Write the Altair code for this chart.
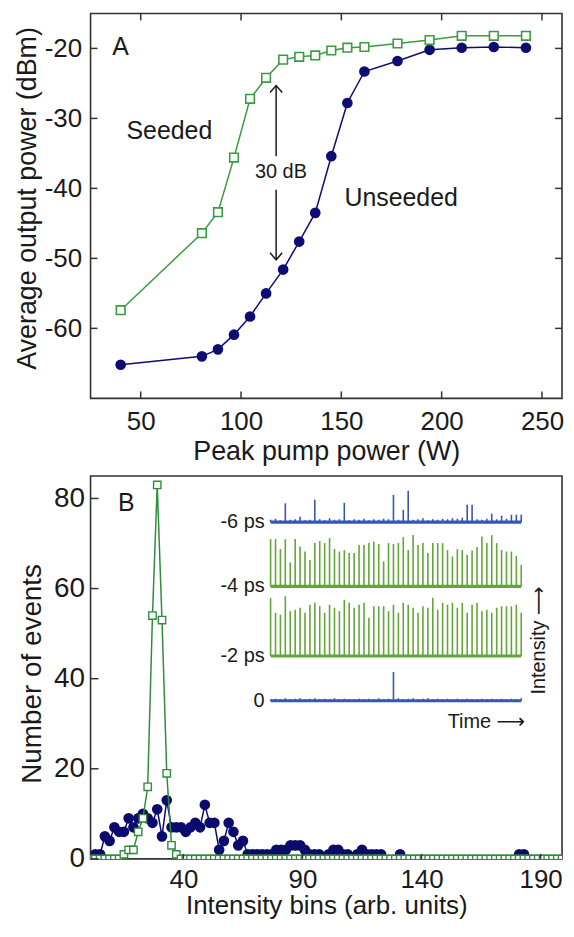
import altair as alt
import pandas as pd

FONT = "Liberation Sans, Arial, DejaVu Sans"
INK = "#1a1a1a"
FRAME = "#333333"

# ---------------- Panel A data ----------------
pump_power = [40, 80.5, 88.5, 96.5, 104.5, 112.5, 121, 129, 137, 145, 153, 161.5, 178, 194, 210, 226, 242]
seeded_dbm = [-57.4, -46.4, -43.4, -35.6, -27.2, -24.2, -21.6, -21.2, -21.0, -20.3, -19.9, -19.8, -19.3, -18.8, -18.2, -18.2, -18.2]
unseeded_dbm = [-65.2, -64.0, -63.0, -60.9, -58.3, -55.0, -51.6, -47.6, -43.5, -35.4, -27.8, -23.3, -21.8, -20.2, -19.9, -19.8, -19.9]
xticks_a = [50, 100, 150, 200, 250]
yticks_a = [-60, -50, -40, -30, -20]

# annotations of panel A (text, x, y, font size)
ann_a_text = ["A", "Seeded", "Unseeded", "30 dB"]
ann_a_x = [40, 64.3, 179.8, 119.9]
ann_a_y = [-19.8, -31.8, -41.4, -37.6]
ann_a_size = [25, 25, 25, 20]
arrow_x = 117.5
arrow_top, arrow_bottom = -25.3, -50.2
arrow_gap_top, arrow_gap_bottom = -35.4, -40.2

# ---------------- Panel B data ----------------
bins = list(range(1, 200, 2))
seeded_counts = [
    0, 0, 0, 0, 0, 0, 0, 1, 2, 2,
    6, 9, 16, 54, 83, 53, 19, 3, 1, 0,
    0, 0, 0, 0, 0, 0, 0, 0, 0, 0,
    0, 0, 0, 0, 0, 0, 0, 0, 0, 0,
    0, 0, 0, 0, 0, 0, 0, 0, 0, 0,
    0, 0, 0, 0, 0, 0, 0, 0, 0, 0,
    0, 0, 0, 0, 0, 0, 0, 0, 0, 0,
    0, 0, 0, 0, 0, 0, 0, 0, 0, 0,
    0, 0, 0, 0, 0, 0, 0, 0, 0, 0,
    0, 0, 0, 0, 0, 0, 0, 0, 0, 0,
]
unseeded_counts = [
    0, 1, 1, 5, 4, 7, 6, 6, 9, 7,
    9, 10, 9, 8, 11, 5, 13, 7, 7, 7,
    6, 7, 8, 7, 12, 8, 8, 2, 4, 8,
    6, 3, 4, 1, 1, 1, 1, 1, 1, 2,
    2, 2, 3, 3, 3, 2, 1, 1, 1, 0,
    1, 2, 2, 1, 1, 0, 1, 2, 1, 1,
    1, 1, 0, 0, 0, 1, 0, 0, 0, 0,
    0, 0, 0, 0, 0, 0, 0, 0, 0, 0,
    0, 0, 0, 0, 0, 0, 0, 0, 0, 0,
    1, 1, 0, 0, 0, 0, 0, 0, 0, 0,
]
xticks_b = [40, 90, 140, 190]
yticks_b = [0, 20, 40, 60, 80]

# inset pulse trains (relative intensity of each pulse)
trace_names = ["-6 ps", "-4 ps", "-2 ps", "0"]
pulses_m6 = [0.05, 0.07, 0.04, 0.38, 0.05, 0.06, 0.11, 0.04, 0.05, 0.45,
             0.06, 0.04, 0.08, 0.05, 0.06, 0.39, 0.04, 0.06, 0.05, 0.07,
             0.04, 0.06, 0.05, 0.07, 0.06, 0.55, 0.05, 0.25, 0.63, 0.05,
             0.06, 0.08, 0.04, 0.06, 0.05, 0.07, 0.06, 0.08, 0.07, 0.09,
             0.35, 0.35, 0.06, 0.05, 0.07, 0.17, 0.06, 0.13, 0.07, 0.15,
             0.15, 0.15]
pulses_m4 = [0.95, 0.95, 0.75, 0.95, 0.48, 0.95, 0.80, 0.70, 0.53, 0.87,
             0.91, 0.87, 0.97, 0.75, 0.70, 0.73, 0.67, 0.67, 0.83, 0.83,
             0.87, 0.90, 0.85, 0.50, 0.87, 0.85, 0.87, 0.99, 0.73, 1.03,
             0.83, 0.87, 0.67, 0.87, 0.87, 0.87, 0.73, 0.60, 0.75, 0.73,
             0.63, 0.72, 0.79, 1.00, 0.87, 1.03, 0.87, 0.73, 0.70, 0.70,
             0.61, 0.43]
pulses_m2 = [1.17, 0.87, 0.83, 1.20, 0.90, 0.93, 0.97, 0.87, 1.03, 1.07,
             1.00, 0.87, 1.03, 0.97, 0.90, 1.13, 1.07, 0.97, 1.03, 1.07,
             0.77, 1.00, 1.00, 1.00, 0.90, 1.03, 0.87, 1.07, 1.03, 0.97,
             0.87, 1.00, 0.97, 1.17, 0.93, 1.07, 1.03, 1.07, 0.97, 1.07,
             0.87, 1.03, 1.07, 0.90, 0.93, 0.87, 0.97, 1.00, 1.00, 1.00,
             1.03, 0.87]
pulses_0 = [0.03, 0.04, 0.03, 0.05, 0.03, 0.04, 0.05, 0.03, 0.04, 0.05,
            0.03, 0.04, 0.03, 0.05, 0.03, 0.04, 0.03, 0.03, 0.04, 0.03,
            0.04, 0.03, 0.05, 0.03, 0.04, 0.58, 0.05, 0.03, 0.04, 0.05,
            0.03, 0.04, 0.05, 0.03, 0.04, 0.03, 0.04, 0.03, 0.04, 0.03,
            0.04, 0.03, 0.03, 0.04, 0.03, 0.04, 0.03, 0.04, 0.03, 0.04,
            0.03, 0.05]

# ---------------- styling / layout ----------------
GREEN_A = "#3a9c40"
NAVY_A = "#0c0c72"
GREEN_B = "#2f8c3c"
NAVY_B = "#0b0b6e"
GREEN_I = "#62a63a"
BLUE_I = "#3656b4"
WA, HA = 474, 387
WB, HB = 474, 385
TICK_A = 7
trace_offset = {"-6 ps": 3.59, "-4 ps": 2.3, "-2 ps": 0.9, "0": 0.0}
trace_color = {"-6 ps": BLUE_I, "-4 ps": GREEN_I, "-2 ps": GREEN_I, "0": BLUE_I}
LABEL_EXPR = "toString(datum.value)"

# ---------------- Panel A ----------------
df_a = pd.DataFrame({
    "x": pump_power * 2,
    "y": seeded_dbm + unseeded_dbm,
    "series": ["Seeded"] * len(pump_power) + ["Unseeded"] * len(pump_power),
})
sx_a = alt.Scale(domain=[25, 260], nice=False, zero=False)
sy_a = alt.Scale(domain=[-70, -15], nice=False, zero=False)
ax_xa = alt.Axis(values=xticks_a, title="Peak pump power (W)", labelFontSize=26, titleFontSize=27,
                 labelPadding=10, titlePadding=4, ticks=False, tickSize=0, domain=False, grid=False,
                 labelExpr=LABEL_EXPR)
ax_ya = alt.Axis(values=yticks_a, title=None, labelFontSize=26,
                 labelPadding=9, ticks=False, tickSize=0, domain=False, grid=False,
                 labelExpr=LABEL_EXPR)


def XA(field):
    return alt.X(field, scale=sx_a, axis=ax_xa)


def YA(field):
    return alt.Y(field, scale=sy_a, axis=ax_ya)


base_a = alt.Chart(df_a)
seed_a = base_a.transform_filter(alt.datum.series == "Seeded")
unseed_a = base_a.transform_filter(alt.datum.series == "Unseeded")

layers_a = [
    unseed_a.mark_line(color=NAVY_A, strokeWidth=1.5).encode(x=XA("x:Q"), y=YA("y:Q")),
    unseed_a.mark_circle(color=NAVY_A, size=115, opacity=1).encode(x=XA("x:Q"), y=YA("y:Q")),
    seed_a.mark_line(color=GREEN_A, strokeWidth=1.5).encode(x=XA("x:Q"), y=YA("y:Q")),
    seed_a.mark_point(shape="square", filled=True, fill="white", stroke=GREEN_A,
                      strokeWidth=1.6, size=75, opacity=1).encode(x=XA("x:Q"), y=YA("y:Q")),
]

# inward ticks on all four sides
xt_a = pd.DataFrame({"x": xticks_a})
yt_a = pd.DataFrame({"y": yticks_a})
layers_a += [
    alt.Chart(xt_a).mark_rule(color=FRAME, strokeWidth=1.5).encode(x=XA("x:Q"), y=alt.value(0), y2=alt.value(TICK_A)),
    alt.Chart(xt_a).mark_rule(color=FRAME, strokeWidth=1.5).encode(x=XA("x:Q"), y=alt.value(HA), y2=alt.value(HA - TICK_A)),
    alt.Chart(yt_a).mark_rule(color=FRAME, strokeWidth=1.5).encode(y=YA("y:Q"), x=alt.value(0), x2=alt.value(TICK_A)),
    alt.Chart(yt_a).mark_rule(color=FRAME, strokeWidth=1.5).encode(y=YA("y:Q"), x=alt.value(WA), x2=alt.value(WA - TICK_A)),
]

# y-axis title drawn as a rotated text
layers_a.append(
    alt.Chart(pd.DataFrame({"t": ["Average output power (dBm)"]})).mark_text(
        font=FONT, color=INK, fontSize=27, angle=270, align="center", baseline="middle").encode(
        text="t:N", x=alt.value(-63), y=alt.value(186))
)

# annotations
ann_a = pd.DataFrame({"t": ann_a_text, "x": ann_a_x, "y": ann_a_y, "fs": ann_a_size})
layers_a.append(
    alt.Chart(ann_a).mark_text(font=FONT, color=INK, align="center", baseline="middle").encode(
        x=XA("x:Q"), y=YA("y:Q"), text="t:N", size=alt.Size("fs:Q", scale=None, legend=None))
)
shaft = pd.DataFrame({"x": [arrow_x, arrow_x], "y": [arrow_top, arrow_gap_bottom], "y2": [arrow_gap_top, arrow_bottom]})
layers_a.append(
    alt.Chart(shaft).mark_rule(color=INK, strokeWidth=1.5).encode(x=XA("x:Q"), y=YA("y:Q"), y2="y2:Q")
)
head_up = pd.DataFrame({"x": [arrow_x], "y": [arrow_top]})
head_dn = pd.DataFrame({"x": [arrow_x], "y": [arrow_bottom]})
layers_a.append(
    alt.Chart(head_up).mark_point(shape="M-1,1.15L0,0L1,1.15", filled=False, color=INK,
                                  strokeWidth=1.5, size=150, opacity=1).encode(x=XA("x:Q"), y=YA("y:Q"))
)
layers_a.append(
    alt.Chart(head_dn).mark_point(shape="M-1,-1.15L0,0L1,-1.15", filled=False, color=INK,
                                  strokeWidth=1.5, size=150, opacity=1).encode(x=XA("x:Q"), y=YA("y:Q"))
)

panel_a = alt.layer(*layers_a).properties(width=WA, height=HA)

# ---------------- Panel B ----------------
df_b = pd.DataFrame({
    "x": bins * 2,
    "y": seeded_counts + unseeded_counts,
    "series": ["Seeded"] * len(bins) + ["Unseeded"] * len(bins),
})
sx_b = alt.Scale(domain=[1, 199], nice=False, zero=False)
sy_b = alt.Scale(domain=[0, 85], nice=False, zero=False)
ax_xb = alt.Axis(values=xticks_b, title="Intensity bins (arb. units)", labelFontSize=26, titleFontSize=26,
                 labelPadding=8, titlePadding=0, ticks=False, tickSize=0, domain=False, grid=False)
ax_yb = alt.Axis(values=yticks_b, title=None, labelFontSize=28,
                 labelPadding=6, ticks=False, tickSize=0, domain=False, grid=False)


def XB(field):
    return alt.X(field, scale=sx_b, axis=ax_xb)


def YB(field):
    return alt.Y(field, scale=sy_b, axis=ax_yb)


base_b = alt.Chart(df_b)
seed_b = base_b.transform_filter(alt.datum.series == "Seeded")
unseed_b = base_b.transform_filter(alt.datum.series == "Unseeded")

main_b = [
    unseed_b.mark_line(color=NAVY_B, strokeWidth=1.5, clip=True).encode(x=XB("x:Q"), y=YB("y:Q")),
    unseed_b.transform_filter(alt.datum.y > 0).mark_circle(color=NAVY_B, size=115, opacity=1, clip=True).encode(
        x=XB("x:Q"), y=YB("y:Q")),
    seed_b.mark_line(color=GREEN_B, strokeWidth=1.5, clip=True).encode(x=XB("x:Q"), y=YB("y:Q")),
    seed_b.mark_point(shape="square", filled=True, fill="white", stroke=GREEN_B,
                      strokeWidth=1.4, size=55, opacity=1, clip=True).encode(x=XB("x:Q"), y=YB("y:Q")),
]
xt_b = pd.DataFrame({"x": xticks_b})
yt_b = pd.DataFrame({"y": yticks_b})
main_b += [
    alt.Chart(xt_b).mark_rule(color=FRAME, strokeWidth=1.5).encode(x=XB("x:Q"), y=alt.value(HB), y2=alt.value(HB - 5)),
    alt.Chart(yt_b).mark_rule(color=FRAME, strokeWidth=1.5).encode(y=YB("y:Q"), x=alt.value(0), x2=alt.value(8)),
]
lab_b = pd.DataFrame({"t": ["B"], "x": [16], "y": [79]})
main_b.append(
    alt.Chart(lab_b).mark_text(font=FONT, color=INK, fontSize=25, align="center", baseline="middle").encode(
        x=XB("x:Q"), y=YB("y:Q"), text="t:N")
)
main_b.append(
    alt.Chart(pd.DataFrame({"t": ["Number of events"]})).mark_text(
        font=FONT, color=INK, fontSize=28, angle=270, align="center", baseline="middle").encode(
        text="t:N", x=alt.value(-58), y=alt.value(199))
)
main_b_layer = alt.layer(*main_b)

# ---------------- inset ----------------
rows = []
for name, vals in zip(trace_names, [pulses_m6, pulses_m4, pulses_m2, pulses_0]):
    for i, h in enumerate(vals):
        rows.append({"trace": name, "i": i, "y0": trace_offset[name], "y1": trace_offset[name] + h})
df_pulse = pd.DataFrame(rows)
df_base = pd.DataFrame({
    "trace": trace_names,
    "i0": [0] * 4,
    "i1": [len(v) - 1 for v in [pulses_m6, pulses_m4, pulses_m2, pulses_0]],
    "y0": [trace_offset[n] for n in trace_names],
})
sx_i = alt.Scale(domain=[0, 51], range=[181, 433], nice=False, zero=False)
sy_i = alt.Scale(domain=[0, 4], range=[226, 26], nice=False, zero=False)
col_i = alt.Color("trace:N", scale=alt.Scale(domain=trace_names, range=[trace_color[n] for n in trace_names]), legend=None)

inset = [
    alt.Chart(df_base).mark_rule(strokeWidth=3.2).encode(
        x=alt.X("i0:Q", scale=sx_i, axis=None), x2="i1:Q",
        y=alt.Y("y0:Q", scale=sy_i, axis=None), color=col_i),
    alt.Chart(df_pulse).mark_rule(strokeWidth=1.6).encode(
        x=alt.X("i:Q", scale=sx_i, axis=None),
        y=alt.Y("y0:Q", scale=sy_i, axis=None), y2="y1:Q", color=col_i),
]
df_tlab = pd.DataFrame({"t": trace_names, "i": [0] * 4, "y0": [trace_offset[n] for n in trace_names]})
inset.append(
    alt.Chart(df_tlab).mark_text(font=FONT, color=INK, fontSize=20, align="right", baseline="middle", dx=-6).encode(
        x=alt.X("i:Q", scale=sx_i, axis=None), y=alt.Y("y0:Q", scale=sy_i, axis=None), text="t:N")
)
df_time = pd.DataFrame({"t": ["Time \u27f6"], "i": [43.9], "y0": [-0.43]})
inset.append(
    alt.Chart(df_time).mark_text(font=FONT, color=INK, fontSize=20, align="center", baseline="middle").encode(
        x=alt.X("i:Q", scale=sx_i, axis=None), y=alt.Y("y0:Q", scale=sy_i, axis=None), text="t:N")
)
df_int = pd.DataFrame({"t": ["Intensity \u27f6"], "i": [54.7], "y0": [1.21]})
inset.append(
    alt.Chart(df_int).mark_text(font=FONT, color=INK, fontSize=20, align="center", baseline="middle", angle=270).encode(
        x=alt.X("i:Q", scale=sx_i, axis=None), y=alt.Y("y0:Q", scale=sy_i, axis=None), text="t:N")
)
inset_layer = alt.layer(*inset)

panel_b = alt.layer(main_b_layer, inset_layer).resolve_scale(
    x="independent", y="independent", color="independent"
).properties(width=WB, height=HB)

chart = alt.vconcat(panel_a, panel_b, spacing=10).properties(
    padding={"left": 5, "top": 1, "right": 1, "bottom": 0},
    background="white",
).configure_view(stroke=FRAME, strokeWidth=1.6).configure_axis(
    labelFont=FONT, titleFont=FONT, labelColor=INK, titleColor=INK, titleFontWeight="normal"
).configure_text(font=FONT)

chart.save("out.html", embed_options={"renderer": "svg", "actions": False})
